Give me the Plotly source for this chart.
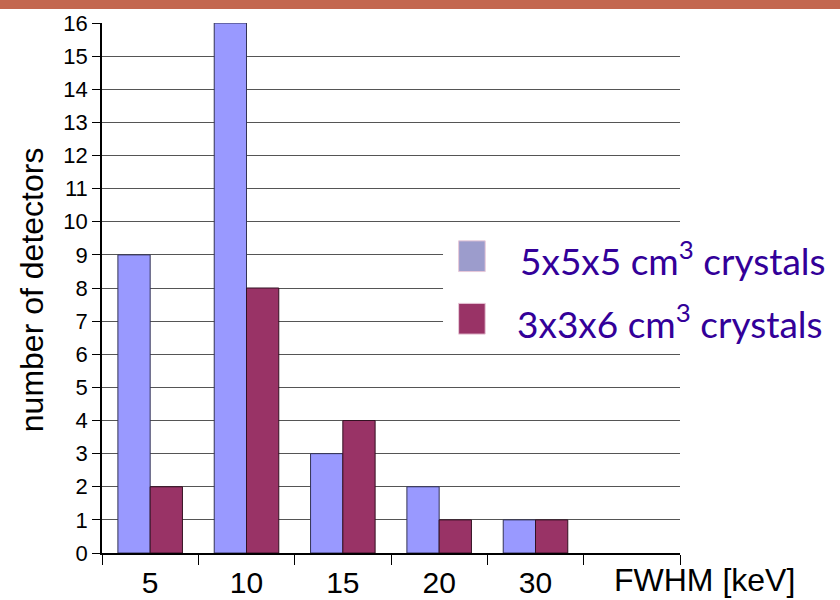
import plotly.graph_objects as go

# FWHM bins (keV) and detector counts per crystal geometry
categories = ["5", "10", "15", "20", "30"]
counts_5x5x5 = [9, 16, 3, 2, 1]
counts_3x3x6 = [2, 8, 4, 1, 1]
series_names = ["5x5x5 cm<sup>3</sup> crystals", "3x3x6 cm<sup>3</sup> crystals"]
y_ticks = list(range(0, 17))

blue = "#9999FF"
maroon = "#993366"
legend_blue = "#9C9CCC"
text_purple = "#330099"
axis_font = "Liberation Sans, Arial, sans-serif"
legend_font = "Lato, Open Sans, sans-serif"

positions = list(range(len(categories)))

fig = go.Figure()
fig.add_trace(go.Bar(
    x=positions, y=counts_5x5x5, name=series_names[0],
    marker=dict(color=blue, line=dict(color="#333355", width=1)),
))
fig.add_trace(go.Bar(
    x=positions, y=counts_3x3x6, name=series_names[1],
    marker=dict(color=maroon, line=dict(color="#331122", width=1)),
))

fig.update_layout(
    width=840, height=600,
    margin=dict(l=102, r=160, t=23, b=47, autoexpand=False),
    paper_bgcolor="white", plot_bgcolor="white",
    barmode="group", bargap=0.33, bargroupgap=0,
    showlegend=False,
    font=dict(family=axis_font, color="black"),
)

fig.update_xaxes(
    automargin=False,
    range=[-0.5, len(categories) + 0.5],
    tickmode="array", tickvals=positions, ticktext=categories,
    ticks="outside", ticklen=2, tickcolor="rgba(0,0,0,0)",
    tickfont=dict(size=30, family=axis_font, color="black"),
    showgrid=False, zeroline=False,
    showline=True, linecolor="black", linewidth=1.5,
    minor=dict(ticks="outside", ticklen=10, tickwidth=1, tickcolor="black",
               tick0=-0.5, dtick=1, showgrid=False),
)

fig.update_yaxes(
    automargin=False,
    range=[0, 16],
    tickmode="array", tickvals=y_ticks,
    ticks="outside", ticklen=8, tickcolor="black", tickwidth=1,
    tickfont=dict(size=22, family=axis_font, color="black"),
    showgrid=True, gridcolor="#555555", gridwidth=1,
    zeroline=False,
    showline=True, linecolor="black", linewidth=1.5,
)

# decorative top band
fig.add_shape(type="rect", xref="paper", yref="paper",
              x0=-0.2, x1=1.3, y0=1.0264, y1=1.05,
              fillcolor="#C3674F", line=dict(width=0), layer="above")

# legend panel
fig.add_shape(type="rect", xref="paper", yref="paper",
              x0=0.590, x1=1.3, y0=0.377, y1=0.618,
              fillcolor="white", line=dict(width=0), layer="above")
legend_rows = [(0.560, legend_blue, 0.720), (0.442, maroon, 0.715)]
for (yc, col, tx), name in zip(legend_rows, series_names):
    fig.add_shape(type="rect", xref="paper", yref="paper",
                  x0=0.617, x1=0.663, y0=yc - 0.029, y1=yc + 0.029,
                  fillcolor=col, line=dict(color="#E8C8D8", width=1), layer="above")
    fig.add_annotation(xref="paper", yref="paper", x=tx, y=yc - 0.004,
                       xanchor="left", yanchor="middle", showarrow=False,
                       text=name, font=dict(size=37, family=legend_font, color=text_purple))

# axis titles
fig.add_annotation(xref="paper", yref="paper", x=-0.121, y=0.496,
                   xanchor="center", yanchor="middle", textangle=-90, showarrow=False,
                   text="number of detectors",
                   font=dict(size=32, family=axis_font, color="black"))
fig.add_annotation(xref="paper", yref="paper", x=1.043, y=-0.051,
                   xanchor="center", yanchor="middle", showarrow=False,
                   text="FWHM [keV]",
                   font=dict(size=32, family=axis_font, color="black"))

fig.write_html("out.html")
